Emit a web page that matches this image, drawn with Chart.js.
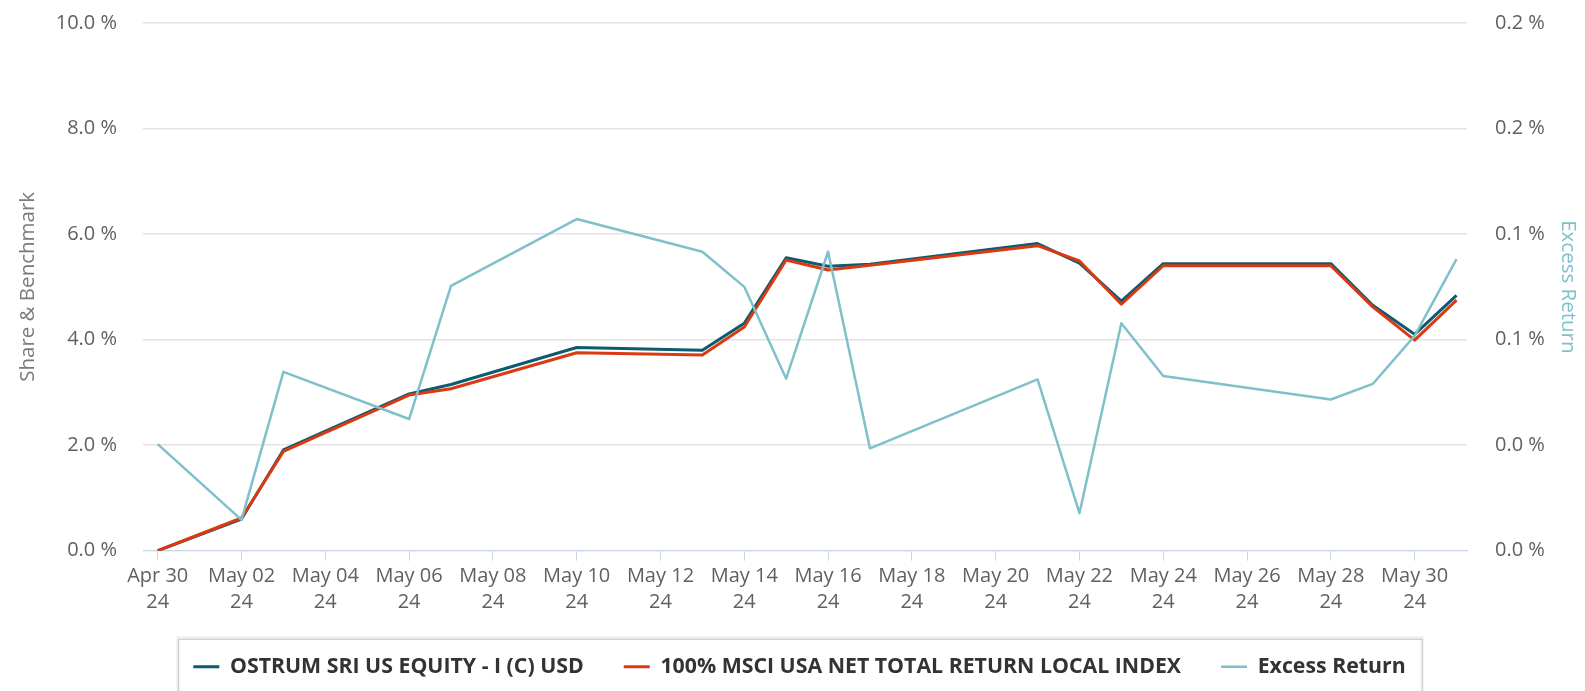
<!DOCTYPE html>
<html><head><meta charset="utf-8">
<script src="https://cdn.jsdelivr.net/npm/chart.js@4/dist/chart.umd.min.js"></script>
<style>html,body{margin:0;padding:0;background:#fff;overflow:hidden}#wrap{width:1585px;height:691px;position:relative}</style>
</head><body><div id="wrap"><canvas id="c" width="1585" height="691"></canvas></div>
<script>
// ---- data ----
const dates = ['2024-04-30','2024-05-02','2024-05-03','2024-05-06','2024-05-07','2024-05-10','2024-05-13','2024-05-14','2024-05-15','2024-05-16','2024-05-17','2024-05-21','2024-05-22','2024-05-23','2024-05-24','2024-05-28','2024-05-29','2024-05-30','2024-05-31'];
const shareValues     = [0.00,0.60,1.91,2.97,3.15,3.85,3.80,4.31,5.55,5.39,5.43,5.82,5.45,4.73,5.44,5.44,4.65,4.10,4.84];
const benchmarkValues = [0.00,0.62,1.88,2.95,3.07,3.75,3.71,4.24,5.51,5.32,5.41,5.78,5.49,4.67,5.40,5.40,4.62,3.99,4.75];
const excessValues    = [0.0404,0.0117,0.0678,0.0499,0.1004,0.1257,0.1133,0.1000,0.0652,0.1133,0.0388,0.0649,0.0142,0.0862,0.0662,0.0573,0.0632,0.0814,0.1105];
const xTickLabels = ['Apr 30','May 02','May 04','May 06','May 08','May 10','May 12','May 14','May 16','May 18','May 20','May 22','May 24','May 26','May 28','May 30'];
const xTickYear = '24';
const seriesNames = ['OSTRUM SRI US EQUITY - I (C) USD','100% MSCI USA NET TOTAL RETURN LOCAL INDEX','Excess Return'];

const day0 = Date.parse(dates[0]);
const dayIndex = dates.map(d => Math.round((Date.parse(d) - day0) / 86400000));
const pts = vals => vals.map((v, i) => ({x: dayIndex[i], y: v}));

const FONT = "'Open Sans', 'DejaVu Sans', sans-serif";

const legendBox = {
  id: 'legendBox',
  afterDraw(chart) {
    const hb = chart.legend && chart.legend.legendHitBoxes;
    if (!hb || !hb.length) return;
    const ctx = chart.ctx;
    const l = hb[0].left - 15;
    const last = hb[hb.length - 1];
    const r = last.left + last.width + 17;
    const cy = hb[0].top + hb[0].height / 2;
    const t = cy - 28;
    ctx.save();
    ctx.strokeStyle = '#ececec';
    ctx.lineWidth = 3;
    ctx.strokeRect(Math.round(l), Math.round(t) - 1, Math.round(r - l), 120);
    ctx.strokeStyle = '#cfcfcf';
    ctx.lineWidth = 1;
    ctx.strokeRect(Math.round(l) + 0.5, Math.round(t) + 0.5, Math.round(r - l), 120);
    ctx.restore();
  }
};

new Chart(document.getElementById('c'), {
  type: 'line',
  data: {
    datasets: [
      {label: seriesNames[0], data: pts(shareValues), borderColor: '#0d5b6e', backgroundColor: '#0d5b6e', borderWidth: 3, yAxisID: 'y', order: 2},
      {label: seriesNames[1], data: pts(benchmarkValues), borderColor: '#d93a12', backgroundColor: '#d93a12', borderWidth: 3, yAxisID: 'y', order: 1},
      {label: seriesNames[2], data: pts(excessValues), borderColor: '#7fc0ca', backgroundColor: '#7fc0ca', borderWidth: 2.5, yAxisID: 'y1', order: 0}
    ]
  },
  options: {
    responsive: false,
    animation: false,
    devicePixelRatio: 1,
    elements: {point: {radius: 0, hoverRadius: 0}, line: {tension: 0, borderJoinStyle: 'round'}},
    layout: {padding: {top: 23, bottom: 3.5, left: 14, right: 0}},
    plugins: {
      tooltip: {enabled: false},
      legend: {
        position: 'bottom',
        labels: {
          usePointStyle: true, pointStyle: 'line', pointStyleWidth: 26,
          padding: 40, color: '#333333',
          font: {family: FONT, size: 21.3, weight: 'bold'},
          sort: (a, b) => a.datasetIndex - b.datasetIndex
        }
      }
    },
    scales: {
      x: {
        type: 'linear', min: -0.351, max: 31.25,
        afterBuildTicks: s => { s.ticks = xTickLabels.map((_, i) => ({value: i * 2})); },
        afterFit: s => { s.height = 65.5; },
        grid: {drawOnChartArea: false, drawTicks: true, tickLength: 10, color: '#ccd6eb'},
        border: {color: '#ccd6eb', width: 1},
        ticks: {
          autoSkip: false, maxRotation: 0, padding: 3, color: '#606060',
          font: {family: FONT, size: 20, lineHeight: 1.28},
          callback: v => [xTickLabels[Math.round(v / 2)], xTickYear]
        }
      },
      y: {
        position: 'left', min: 0, max: 10,
        afterFit: s => { s.width = 129; s.paddingTop = 0; s.paddingBottom = 0; },
        grid: {color: '#e3e3e3', drawTicks: false, lineWidth: 1.5},
        border: {display: false},
        ticks: {stepSize: 2, padding: 26, color: '#606060', font: {family: FONT, size: 20},
          callback: v => v.toFixed(1) + ' %'},
        title: {display: true, text: 'Share & Benchmark', color: '#7a7a7a',
          font: {family: FONT, size: 20.5, lineHeight: 1.2}, padding: {top: 2, bottom: 0}}
      },
      y1: {
        position: 'right', min: 0, max: 0.2,
        afterFit: s => { s.width = 118; s.paddingTop = 0; s.paddingBottom = 0; },
        grid: {drawOnChartArea: false, drawTicks: false},
        border: {display: false},
        ticks: {stepSize: 0.04, padding: 28, color: '#606060', font: {family: FONT, size: 20},
          callback: v => (Math.round(v * 10000) / 10000).toFixed(1) + ' %'},
        title: {display: true, text: 'Excess Return', color: '#7fc0ca',
          font: {family: FONT, size: 20.5, lineHeight: 1.2}, padding: {top: 5, bottom: 0}}
      }
    }
  },
  plugins: [legendBox]
});
</script></body></html>
